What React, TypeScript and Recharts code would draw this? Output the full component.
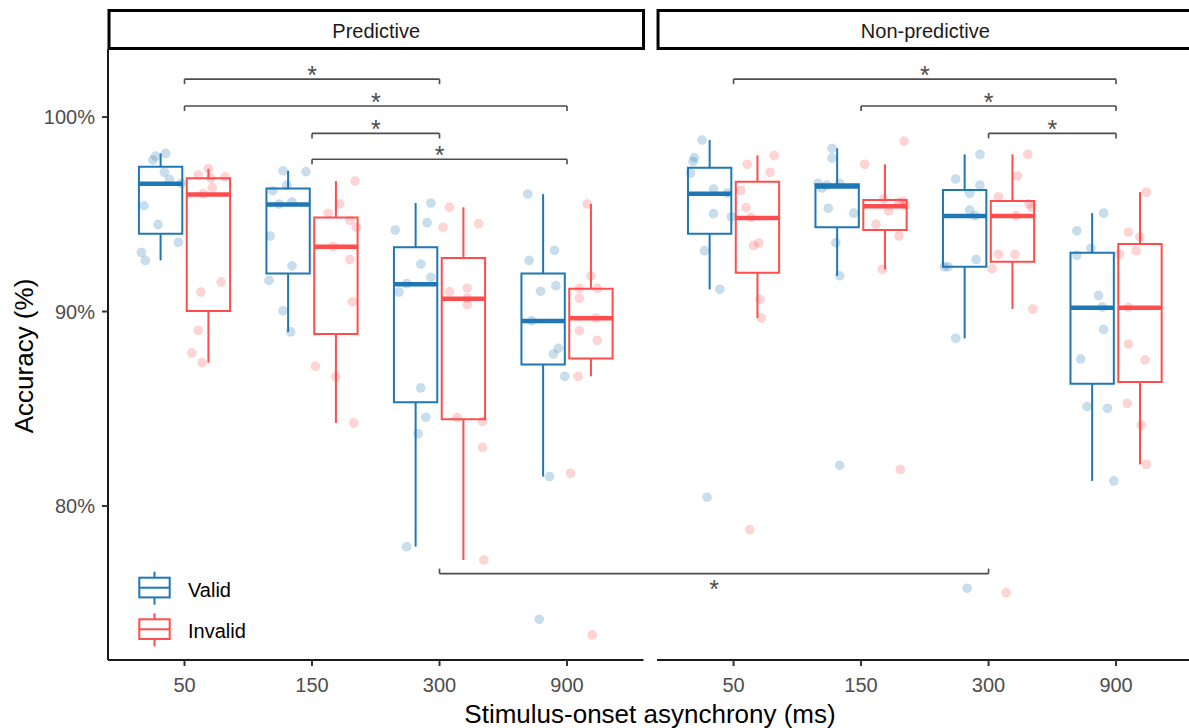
import React from "react";
import { ComposedChart, XAxis, YAxis, Scatter, ReferenceArea, ReferenceLine, ReferenceDot } from "recharts";

const FONT = "'Liberation Sans', Arial, Helvetica, sans-serif";
const BLUE = "#1f77b4";
const RED = "#ff4d4d";

const SOA = ["50", "150", "300", "900"];
const PANELS = ["Predictive", "Non-predictive"];
const CONDITIONS = ["Valid", "Invalid"];

// [lower whisker, q1, median, q3, upper whisker] per SOA
const PRED_VALID_BOX = [[92.63, 94.0, 96.57, 97.45, 98.13], [88.95, 91.96, 95.51, 96.33, 97.24], [77.91, 85.33, 91.4, 93.3, 95.58], [81.51, 87.27, 89.51, 91.96, 96.04]];
const PRED_INVALID_BOX = [[87.37, 90.03, 96.02, 96.85, 97.34], [84.27, 88.84, 93.33, 94.83, 96.71], [77.22, 84.46, 90.66, 92.75, 95.36], [86.67, 87.59, 89.65, 91.17, 95.53]];
const NONPRED_VALID_BOX = [[91.14, 94.0, 96.06, 97.39, 98.82], [91.84, 94.33, 96.43, 96.55, 98.39], [88.62, 92.3, 94.91, 96.25, 98.08], [81.29, 86.29, 90.2, 93.02, 95.06]];
const NONPRED_INVALID_BOX = [[89.67, 92.0, 94.81, 96.67, 98.03], [92.17, 94.19, 95.42, 95.73, 97.57], [90.13, 92.56, 94.91, 95.68, 98.08], [82.14, 86.38, 90.2, 93.47, 96.14]];

// participants: [jitter offset, accuracy %] per SOA
const PRED_VALID_PTS = [
  [[-0.04, 97.99], [-0.06, 97.79], [0.04, 98.13], [0.03, 97.16], [0.07, 96.8], [0.16, 96.59], [-0.13, 95.44], [-0.02, 94.48], [0.14, 93.56], [-0.15, 93.04], [-0.12, 92.63]],
  [[-0.04, 97.24], [0.14, 97.19], [-0.01, 96.5], [-0.12, 96.21], [-0.07, 95.53], [0.03, 95.63], [-0.14, 93.88], [0.03, 92.35], [-0.15, 91.6], [-0.04, 90.04], [0.02, 88.95]],
  [[0.12, 95.58], [-0.16, 94.19], [0.09, 94.57], [0.04, 92.44], [0.12, 91.76], [-0.07, 91.43], [-0.13, 91.0], [0.04, 86.07], [0.08, 84.56], [0.02, 83.72], [-0.07, 77.91]],
  [[-0.12, 96.04], [0.09, 93.15], [-0.11, 92.63], [-0.02, 91.04], [0.1, 91.33], [-0.09, 89.53], [0.12, 88.11], [0.08, 87.81], [0.17, 86.67], [0.05, 81.51], [-0.03, 74.17]],
];
const PRED_INVALID_PTS = [
  [[0.0, 97.34], [-0.08, 97.02], [0.13, 96.92], [0.02, 96.85], [0.03, 96.37], [-0.04, 96.06], [0.1, 91.52], [-0.06, 91.0], [-0.08, 89.03], [-0.13, 87.87], [-0.05, 87.37]],
  [[0.15, 96.71], [0.03, 95.53], [-0.06, 95.05], [0.11, 94.69], [0.16, 94.33], [-0.02, 93.35], [0.11, 92.68], [0.13, 90.5], [-0.16, 87.18], [0.0, 86.65], [0.14, 84.27]],
  [[-0.11, 95.36], [-0.16, 94.33], [0.12, 94.51], [-0.11, 91.02], [0.03, 91.21], [0.03, 90.69], [0.03, 90.35], [-0.05, 84.54], [0.15, 84.35], [0.15, 83.02], [0.16, 77.22]],
  [[-0.03, 95.53], [0.0, 91.84], [-0.09, 91.19], [0.05, 91.19], [-0.09, 90.68], [0.04, 89.67], [-0.09, 89.01], [0.05, 88.52], [-0.1, 86.67], [-0.16, 81.68], [0.01, 73.37]],
];
const NONPRED_VALID_PTS = [
  [[-0.06, 98.82], [-0.12, 97.91], [-0.13, 97.72], [-0.15, 97.12], [0.03, 96.3], [0.14, 96.09], [0.03, 95.03], [0.17, 94.87], [-0.04, 93.13], [0.08, 91.14], [-0.02, 80.45]],
  [[-0.04, 98.39], [-0.04, 97.89], [-0.15, 96.59], [-0.12, 96.35], [0.02, 96.59], [-0.08, 96.5], [-0.07, 95.31], [0.13, 95.06], [-0.01, 93.54], [0.02, 91.84], [0.02, 82.09]],
  [[0.12, 98.08], [-0.07, 96.81], [0.12, 96.5], [0.04, 96.08], [0.04, 95.22], [0.08, 94.93], [0.09, 92.68], [-0.16, 92.3], [-0.13, 92.3], [-0.07, 88.62], [0.02, 75.77]],
  [[0.09, 95.06], [-0.12, 94.15], [-0.01, 93.25], [-0.12, 92.89], [0.05, 90.83], [0.08, 90.23], [0.09, 89.08], [-0.09, 87.56], [-0.04, 85.11], [0.12, 85.02], [0.17, 81.29]],
];
const NONPRED_INVALID_PTS = [
  [[0.13, 98.03], [-0.08, 97.57], [0.1, 97.16], [-0.13, 96.23], [-0.09, 95.34], [-0.05, 94.84], [0.01, 93.52], [-0.03, 93.4], [0.02, 90.63], [0.03, 89.67], [-0.06, 78.78]],
  [[0.15, 98.77], [-0.16, 97.57], [-0.01, 95.8], [0.14, 95.67], [0.11, 95.61], [0.16, 95.48], [0.03, 95.17], [-0.07, 94.48], [0.11, 93.88], [-0.02, 92.17], [0.12, 81.87]],
  [[0.12, 98.08], [0.04, 96.97], [-0.11, 95.9], [0.13, 95.53], [0.15, 95.36], [0.03, 94.93], [-0.11, 92.94], [0.02, 92.94], [-0.16, 92.2], [0.16, 90.13], [-0.05, 75.54]],
  [[0.05, 96.14], [-0.09, 94.09], [0.0, 93.83], [-0.03, 93.13], [-0.16, 92.94], [-0.09, 90.22], [-0.09, 88.33], [0.04, 87.51], [-0.1, 85.28], [0.01, 84.16], [0.05, 82.14]],
];

// significance brackets: [panel, soa] -> [panel, soa] at accuracy level
const SIG_BRACKETS = [
  { from: [0, 0], to: [0, 2], y: 101.95, below: false },
  { from: [0, 0], to: [0, 3], y: 100.57, below: false },
  { from: [0, 1], to: [0, 2], y: 99.16, below: false },
  { from: [0, 1], to: [0, 3], y: 97.83, below: false },
  { from: [1, 0], to: [1, 3], y: 101.95, below: false },
  { from: [1, 1], to: [1, 3], y: 100.57, below: false },
  { from: [1, 2], to: [1, 3], y: 99.16, below: false },
  { from: [0, 2], to: [1, 2], y: 76.52, below: true },
];

const PANEL_SHIFT = 4.306;
const DODGE = 0.1875;
const HALF_BOX = 0.17;
const TIP = 0.26;
const X_DOMAIN = [0.4, 8.878];
const Y_DOMAIN = [72.08, 103.5];
const PLOT_LEFT = 108;
const PLOT_TOP = 49;
const PLOT_BOTTOM = 660;
const W = 1189;
const H = 728;

const catPos = (panel: number, soa: number) => 1 + soa + panel * PANEL_SHIFT;
const pxPerUnit = (W - PLOT_LEFT) / (X_DOMAIN[1] - X_DOMAIN[0]);
const toPx = (v: number) => PLOT_LEFT + (v - X_DOMAIN[0]) * pxPerUnit;

const SERIES = [
  { panel: 0, cond: 0, box: PRED_VALID_BOX, pts: PRED_VALID_PTS },
  { panel: 0, cond: 1, box: PRED_INVALID_BOX, pts: PRED_INVALID_PTS },
  { panel: 1, cond: 0, box: NONPRED_VALID_BOX, pts: NONPRED_VALID_PTS },
  { panel: 1, cond: 1, box: NONPRED_INVALID_BOX, pts: NONPRED_INVALID_PTS },
];
const COND_COLORS = [BLUE, RED];
const COND_SHIFT = [-DODGE, DODGE];

const TICK_POS = PANELS.flatMap((_, p) => SOA.map((_, s) => catPos(p, s)));

const pointsFor = (cond: number) =>
  SERIES.filter(sr => sr.cond === cond).flatMap(sr =>
    sr.pts.flatMap((list, s) => list.map(([dx, v]) => ({ x: catPos(sr.panel, s) + COND_SHIFT[cond] + dx, y: v })))
  );

const App = () => {
  const boxEls = SERIES.flatMap(sr =>
    sr.box.flatMap((b, s) => {
      const cx = catPos(sr.panel, s) + COND_SHIFT[sr.cond];
      const c = COND_COLORS[sr.cond];
      const [lo, q1, med, q3, hi] = b;
      const k = `${sr.panel}-${sr.cond}-${s}`;
      return [
        <ReferenceLine key={k + "wu"} segment={[{ x: cx, y: q3 }, { x: cx, y: hi }]} stroke={c} strokeWidth={2} ifOverflow="visible" />,
        <ReferenceLine key={k + "wl"} segment={[{ x: cx, y: lo }, { x: cx, y: q1 }]} stroke={c} strokeWidth={2} ifOverflow="visible" />,
        <ReferenceArea key={k + "bx"} x1={cx - HALF_BOX} x2={cx + HALF_BOX} y1={q1} y2={q3} fill="#ffffff" fillOpacity={1} stroke={c} strokeWidth={2} strokeOpacity={1} ifOverflow="visible" />,
        <ReferenceLine key={k + "md"} segment={[{ x: cx - HALF_BOX, y: med }, { x: cx + HALF_BOX, y: med }]} stroke={c} strokeWidth={4.5} ifOverflow="visible" />,
      ];
    })
  );

  const bracketEls = SIG_BRACKETS.flatMap((br, i) => {
    const x1 = catPos(br.from[0], br.from[1]);
    const x2 = catPos(br.to[0], br.to[1]);
    const tipY = br.below ? br.y + TIP : br.y - TIP;
    const stroke = "#4d4d4d";
    const dy = br.below ? 24 : 5;
    return [
      <ReferenceLine key={`b${i}h`} segment={[{ x: x1, y: br.y }, { x: x2, y: br.y }]} stroke={stroke} strokeWidth={1.6} ifOverflow="visible" />,
      <ReferenceLine key={`b${i}l`} segment={[{ x: x1, y: br.y }, { x: x1, y: tipY }]} stroke={stroke} strokeWidth={1.6} ifOverflow="visible" />,
      <ReferenceLine key={`b${i}r`} segment={[{ x: x2, y: br.y }, { x: x2, y: tipY }]} stroke={stroke} strokeWidth={1.6} ifOverflow="visible" />,
      <ReferenceDot
        key={`b${i}s`}
        x={(x1 + x2) / 2}
        y={br.y}
        r={0}
        ifOverflow="visible"
        shape={(p: any) => (
          <text x={p.cx} y={p.cy + dy} textAnchor="middle" fontSize={25} fontFamily={FONT} fill="#4d4d4d">
            *
          </text>
        )}
      />,
    ];
  });

  const panelEdges = PANELS.map((_, p) => [X_DOMAIN[0] + p * PANEL_SHIFT, 4.6 + p * PANEL_SHIFT]);

  return (
    <div style={{ position: "absolute", left: 0, top: 0, width: W, height: H, background: "#fff", fontFamily: FONT }}>
      <ComposedChart width={W} height={H} margin={{ top: PLOT_TOP, right: 0, bottom: 0, left: 0 }}>
        <XAxis
          type="number"
          dataKey="x"
          domain={X_DOMAIN}
          allowDataOverflow
          ticks={TICK_POS}
          interval={0}
          height={H - PLOT_BOTTOM}
          axisLine={false}
          tickLine={{ stroke: "#333333", strokeWidth: 2 }}
          tickSize={6}
          tickMargin={12}
          tick={{ fill: "#4d4d4d", fontSize: 20, fontFamily: FONT }}
          tickFormatter={(v: number) => {
            const i = TICK_POS.findIndex(t => Math.abs(t - v) < 1e-6);
            return i >= 0 ? SOA[i % SOA.length] : "";
          }}
        />
        <YAxis
          type="number"
          dataKey="y"
          domain={Y_DOMAIN}
          allowDataOverflow
          ticks={[80, 90, 100]}
          width={PLOT_LEFT}
          axisLine={{ stroke: "#1a1a1a", strokeWidth: 2 }}
          tickLine={{ stroke: "#333333", strokeWidth: 2 }}
          tickSize={6}
          tickMargin={7}
          tick={{ fill: "#4d4d4d", fontSize: 20, fontFamily: FONT }}
          tickFormatter={(v: number) => `${v}%`}
        />
        {panelEdges.map((e, p) => (
          <ReferenceLine
            key={`ax${p}`}
            segment={[{ x: e[0], y: Y_DOMAIN[0] }, { x: Math.min(e[1], X_DOMAIN[1]), y: Y_DOMAIN[0] }]}
            stroke="#1a1a1a"
            strokeWidth={2}
            ifOverflow="visible"
          />
        ))}
        {boxEls}
        {bracketEls}
        {CONDITIONS.map((name, cond) => (
          <Scatter
            key={name}
            name={name}
            data={pointsFor(cond)}
            isAnimationActive={false}
            shape={(p: any) => (
              <circle cx={p.cx} cy={p.cy} r={4.6} fill={COND_COLORS[cond]} fillOpacity={0.24} stroke={COND_COLORS[cond]} strokeOpacity={0.08} strokeWidth={1} />
            )}
          />
        ))}
      </ComposedChart>

      <svg width={W} height={H} style={{ position: "absolute", left: 0, top: 0, pointerEvents: "none" }} fontFamily={FONT}>
        {PANELS.map((name, p) => {
          const x0 = toPx(panelEdges[p][0]) + 1;
          const x1 = toPx(panelEdges[p][1]);
          return (
            <g key={name}>
              <rect x={x0} y={10.5} width={x1 - x0} height={38} fill="#ffffff" stroke="#000000" strokeWidth={3} />
              <text x={(x0 + x1) / 2} y={38} textAnchor="middle" fontSize={20} fill="#1a1a1a">
                {name}
              </text>
            </g>
          );
        })}
        <text x={650} y={723} textAnchor="middle" fontSize={26} fill="#000000">
          Stimulus-onset asynchrony (ms)
        </text>
        <text transform="translate(33,356) rotate(-90)" textAnchor="middle" fontSize={26} fill="#000000">
          Accuracy (%)
        </text>
        {CONDITIONS.map((name, cond) => {
          const top = 577.7 + cond * 41.6;
          const c = COND_COLORS[cond];
          return (
            <g key={name}>
              <line x1={154.5} x2={154.5} y1={top - 6} y2={top} stroke={c} strokeWidth={2} />
              <line x1={154.5} x2={154.5} y1={top + 19.7} y2={top + 27} stroke={c} strokeWidth={2} />
              <rect x={139.3} y={top} width={30.4} height={19.7} fill="#ffffff" stroke={c} strokeWidth={2} />
              <line x1={139.3} x2={169.7} y1={top + 10} y2={top + 10} stroke={c} strokeWidth={2} />
              <text x={188} y={top + 19} fontSize={20} fill="#000000">
                {name}
              </text>
            </g>
          );
        })}
      </svg>
    </div>
  );
};

export default App;
